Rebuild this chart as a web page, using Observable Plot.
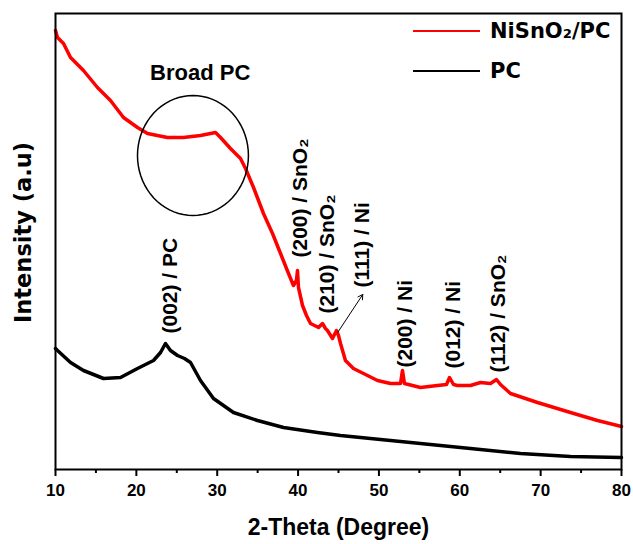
<!DOCTYPE html>
<html><head><meta charset="utf-8">
<script src="https://cdn.jsdelivr.net/npm/d3@7"></script>
<script src="https://cdn.jsdelivr.net/npm/@observablehq/plot@0.6"></script>
<style>
body{margin:0;background:#fff;}
#chart svg{display:block;background:#fff;}
</style></head><body><div id="chart"></div>
<script>
// NiSnO2/PC pattern (2θ in degrees, intensity in a.u.)
const redTheta = [10.0,10.25,10.99,11.86,13.46,15.19,16.8,18.41,20.14,21.38,22.6,23.85,25.83,27.93,29.79,30.41,31.64,32.88,33.5,34.49,35.72,36.84,37.83,38.82,39.43,39.8,39.93,40.05,40.55,41.04,41.54,42.53,43.02,43.39,43.64,44.26,44.75,45.0,45.25,45.86,46.85,48.09,49.82,51.43,52.67,52.91,53.16,55.14,57.24,58.36,58.73,59.22,59.72,61.32,62.56,63.8,64.54,65.03,66.27,69.61,73.69,77.03,80.0];
const redInt = [439,432,426,412,399,382,369,352,342,336,334,332,332,334,337,332,321,311,301,282,256,236,216,196,184,189,199,182,164,154,146,142,146,141,139,131,139,134,126,109,101,96,89,86,86,99,86,82,84,85,92,85,84,84,87,86,90,85,76,67,57,49,43];
// PC pattern
const blackTheta = [10.0,10.25,11.86,13.46,15.94,18.04,20.14,22.12,22.99,23.6,24.22,25.09,25.95,26.7,27.93,29.54,32.01,34.98,38.2,42.4,45.25,48.96,55.14,61.32,67.51,73.69,80.0];
const blackInt = [121,119,107,99,91,92,101,109,117,126,119,114,111,107,89,71,57,49,42,37,34,31,26,21,16,13,12];

// peak annotations
const peakLabels = ["(002) / PC","(200) / SnO₂","(210) / SnO₂","(111) / Ni","(200) / Ni","(012) / Ni","(112) / SnO₂"];
const peakLabelTheta = [24.2,40.3,43.6,48.0,53.2,59.2,64.8];
const peakLabelInt = [136,212,156,182,102,101,97];

const xTicks = [10,20,30,40,50,60,70,80];
const xMinorTicks = [15,25,35,45,55,65,75];

const red = redTheta.map((x,i)=>({x, y: redInt[i]}));
const black = blackTheta.map((x,i)=>({x, y: blackInt[i]}));
const peaks = peakLabels.map((t,i)=>({t, x: peakLabelTheta[i], y: peakLabelInt[i]}));

// ellipse annotation around the broad PC hump
const ell = d3.range(0, 73).map(k => {
  const a = k / 72 * 2 * Math.PI;
  return {x: 27.0 + 6.86 * Math.cos(a), y: 314 + 60 * Math.sin(a)};
});

function legend(index, scales, values, dimensions) {
  const g = d3.create("svg:g");
  const right = dimensions.width - dimensions.marginRight;
  const items = [{label: "NiSnO₂/PC", color: "#ff0000", y: 31}, {label: "PC", color: "#000", y: 71}];
  for (const it of items) {
    g.append("line").attr("x1", right - 208).attr("x2", right - 141)
      .attr("y1", it.y).attr("y2", it.y).attr("stroke", it.color).attr("stroke-width", 2);
    g.append("text").attr("x", right - 131).attr("y", it.y).attr("dy", "0.35em")
      .attr("text-anchor", "start")
      .attr("font-family", "DejaVu Sans").attr("font-weight", "bold")
      .attr("font-size", 21).attr("fill", "#000").text(it.label);
  }
  return g.node();
}

const chart = Plot.plot({
  width: 633,
  height: 544,
  marginLeft: 55,
  marginRight: 12,
  marginTop: 13,
  marginBottom: 75,
  style: {fontFamily: "'Liberation Sans', Arial, sans-serif", fontWeight: "bold", background: "#fff"},
  x: {domain: [10, 80], label: null},
  y: {domain: [0, 456], axis: null},
  marks: [
    Plot.line(black, {x: "x", y: "y", stroke: "#000", strokeWidth: 3.5}),
    Plot.line(red, {x: "x", y: "y", stroke: "#ff0000", strokeWidth: 3.5}),
    Plot.line(ell, {x: "x", y: "y", stroke: "#000", strokeWidth: 1.5}),
    Plot.arrow([{x1: 44.9, y1: 137, x2: 48.0, y2: 175}], {x1: "x1", y1: "y1", x2: "x2", y2: "y2", stroke: "#000", strokeWidth: 1, headLength: 8}),
    Plot.text(peaks, {x: "x", y: "y", text: "t", rotate: -90, textAnchor: "start", lineAnchor: "middle", fontSize: 21, fontWeight: "bold", fill: "#000"}),
    Plot.text(["Broad PC"], {x: 27.9, y: 397, text: d => d, fontSize: 22, fontWeight: "bold", fill: "#000"}),
    Plot.axisX({ticks: xTicks, tickSize: 7, tickFormat: () => "", strokeWidth: 2, label: null}),
    Plot.axisX({ticks: xMinorTicks, tickSize: 4, tickFormat: () => "", strokeWidth: 2, label: null}),
    Plot.text(xTicks, {x: d => d, frameAnchor: "bottom", lineAnchor: "middle", dy: 21, text: d => String(d), fontSize: 17, fontWeight: "bold", fill: "#000"}),
    Plot.text(["2-Theta (Degree)"], {frameAnchor: "bottom", lineAnchor: "middle", dy: 58, text: d => d, fontSize: 23, fontWeight: "bold", fill: "#000"}),
    Plot.text(["Intensity (a.u)"], {frameAnchor: "left", textAnchor: "middle", lineAnchor: "middle", dx: -32, dy: -9, rotate: -90, text: d => d, fontSize: 22.5, fontWeight: "bold", fontFamily: "DejaVu Sans", fill: "#000"}),
    Plot.frame({stroke: "#000", strokeWidth: 2}),
    legend
  ]
});
document.getElementById("chart").append(chart);
</script></body></html>
